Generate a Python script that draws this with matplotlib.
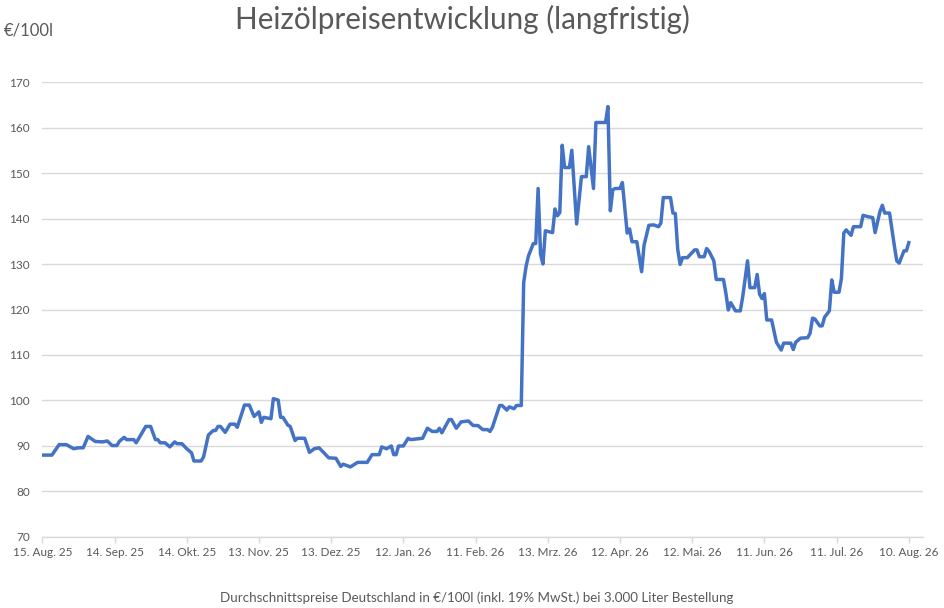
import numpy as np
import pandas as pd
import matplotlib
matplotlib.use("Agg")
import matplotlib.pyplot as plt

plt.rcParams['font.family'] = ['Lato', 'DejaVu Sans']

# days since 15 Aug 2025 and price in EUR per 100 l
start_date = pd.Timestamp("2025-08-15")
day_offsets = [
    0, 4, 7, 10, 11, 13, 15, 17, 19, 22, 25, 27, 29, 31, 32, 34, 35, 38, 39,
    43, 45, 47, 48, 49, 51, 53, 55, 56, 58, 60, 62, 63, 66, 67, 69, 71, 72,
    73, 74, 76, 78, 80, 81, 84, 86, 88, 90, 91, 92, 95, 96, 98, 99, 100, 102,
    103, 105, 106, 109, 111, 113, 115, 119, 122, 124, 125, 128, 131, 135, 137,
    140, 141, 143, 145, 146, 147, 148, 150, 152, 153, 158, 160, 162, 164, 165,
    166, 169, 170, 172, 174, 177, 179, 181, 183, 185, 186, 187, 190, 191, 193,
    194, 196, 197, 199, 200, 201, 202, 204, 205, 206, 207, 208, 209, 212, 213,
    214, 215, 216, 217, 219, 220, 222, 224, 226, 227, 229, 230, 234, 235, 236,
    237, 238, 240, 241, 243, 244, 245, 247, 249, 250, 252, 254, 256, 257, 258,
    261, 262, 263, 264, 265, 266, 268, 271, 272, 273, 275, 276, 277, 279, 280,
    283, 284, 285, 286, 288, 290, 291, 293, 294, 296, 297, 298, 299, 300, 301,
    303, 305, 307, 308, 311, 312, 313, 315, 318, 319, 320, 321, 323, 324, 325,
    327, 328, 329, 331, 332, 333, 334, 336, 337, 340, 341, 343, 345, 346, 348,
    349, 350, 352, 354, 355, 356, 358, 359, 360,
]
prices = [
    88.0, 88.0, 90.3, 90.3, 90.0, 89.4, 89.6, 89.6, 92.1, 91.0, 90.9, 91.1,
    90.1, 90.1, 91.0, 91.9, 91.4, 91.4, 90.7, 94.3, 94.3, 91.4, 91.4, 90.7,
    90.7, 89.8, 90.9, 90.5, 90.5, 89.4, 88.5, 86.7, 86.7, 87.6, 92.4, 93.4,
    93.4, 94.3, 94.3, 93.0, 94.8, 94.8, 94.1, 99.0, 99.0, 96.5, 97.5, 95.2,
    96.3, 96.0, 100.4, 100.1, 96.3, 96.3, 94.6, 94.3, 91.2, 91.7, 91.7, 88.6,
    89.4, 89.6, 87.4, 87.3, 85.5, 86.0, 85.4, 86.4, 86.4, 88.1, 88.1, 89.8,
    89.4, 90.0, 88.1, 88.1, 90.0, 90.0, 91.7, 91.4, 91.7, 93.9, 93.2, 93.2,
    93.9, 92.9, 95.8, 95.8, 93.9, 95.3, 95.5, 94.5, 94.5, 93.6, 93.6, 93.2,
    94.1, 98.9, 98.9, 97.9, 98.6, 98.2, 98.9, 98.9, 125.9, 129.5, 131.8,
    134.5, 134.5, 146.6, 132.2, 130.0, 137.3, 136.9, 142.1, 140.6, 141.3,
    156.1, 151.2, 151.2, 155.0, 138.8, 149.2, 149.2, 155.8, 146.6, 161.1,
    161.1, 164.6, 141.7, 146.3, 146.6, 146.6, 147.9, 136.8, 137.7, 134.9,
    134.9, 128.3, 134.1, 138.5, 138.6, 138.2, 139.0, 144.6, 144.6, 141.2,
    141.1, 133.2, 129.9, 131.4, 131.4, 133.1, 133.1, 131.6, 131.6, 133.4,
    132.8, 130.7, 126.6, 126.6, 123.6, 119.9, 121.5, 119.7, 119.7, 122.8,
    130.7, 124.8, 124.8, 127.7, 123.4, 122.4, 123.5, 117.7, 117.7, 112.8,
    111.1, 112.6, 112.6, 111.2, 112.8, 113.7, 113.8, 114.8, 118.1, 117.9,
    116.4, 116.4, 118.3, 119.7, 126.5, 123.8, 123.8, 126.8, 136.8, 137.5,
    136.3, 138.2, 138.2, 140.7, 140.4, 140.2, 136.9, 141.5, 142.9, 141.2,
    141.2, 134.0, 130.7, 130.2, 132.9, 132.9, 134.7,
]

tick_labels = [
    "15. Aug. 25", "14. Sep. 25", "14. Okt. 25", "13. Nov. 25", "13. Dez. 25",
    "12. Jan. 26", "11. Feb. 26", "13. Mrz. 26", "12. Apr. 26", "12. Mai. 26",
    "11. Jun. 26", "11. Jul. 26", "10. Aug. 26",
]
y_ticks = [70, 80, 90, 100, 110, 120, 130, 140, 150, 160, 170]

dates = start_date + pd.to_timedelta(day_offsets, unit="D")
tick_dates = [start_date + pd.Timedelta(days=30 * i) for i in range(len(tick_labels))]

grey = '#595959'
fig = plt.figure(figsize=(9.44, 6.08), dpi=100)
ax = fig.add_axes([0.0448, 0.1168, 0.9327, 0.7483])

ax.plot(dates, prices, color='#4472C4', linewidth=2.5, solid_joinstyle='round')

ax.set_ylim(70, 170)
ax.set_yticks(y_ticks)
ax.set_xlim(start_date, start_date + pd.Timedelta(days=365.8))
ax.set_xticks(tick_dates)
ax.set_xticklabels(tick_labels)

ax.grid(axis='y', color='#D9D9D9', linewidth=1)
ax.set_axisbelow(True)
for s in ['top', 'right', 'left']:
    ax.spines[s].set_visible(False)
ax.spines['bottom'].set_color('#D9D9D9')
ax.spines['bottom'].set_linewidth(1)

ax.tick_params(axis='y', length=0, pad=9, labelsize=8.5, labelcolor=grey)
ax.tick_params(axis='x', length=4, width=1, color='#D9D9D9', pad=3,
               labelsize=8.5, labelcolor=grey)

fig.text(462 / 944, 1 - 19 / 608, "Heizölpreisentwicklung (langfristig)",
         ha='center', va='center', fontsize=21.3, color=grey)
fig.text(4 / 944, 1 - 30 / 608, "€/100l", ha='left', va='center',
         fontsize=12, color=grey)
fig.text(477 / 944, 1 - 598 / 608,
         "Durchschnittspreise Deutschland in €/100l (inkl. 19% MwSt.) bei 3.000 Liter Bestellung",
         ha='center', va='center', fontsize=9.6, color=grey)

fig.savefig("out.png", dpi=100)
